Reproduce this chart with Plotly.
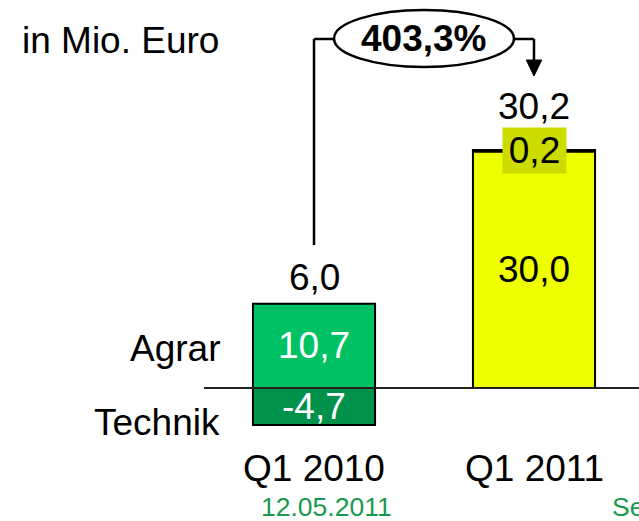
import plotly.graph_objects as go

# ---- data ----
categories = ["Q1 2010", "Q1 2011"]
agrar = [10.7, 30.0]
technik = [-4.7, 0.2]
totals = [6.0, 30.2]
growth_label = "403,3%"
unit_label = "in Mio. Euro"
segment_names = ["Agrar", "Technik"]
footer_date = "12.05.2011"
footer_right = "Seite"


def de(v):
    return f"{v:.1f}".replace(".", ",")


W, H = 639, 521
ZERO_PX = 388
PX_PER_UNIT = 7.88
X0_PX, X_STEP = 314, 220
FONT = "Liberation Sans, Arial, sans-serif"
FS = 37

xpos = list(range(len(categories)))
agrar_colors = ["#00C264", "#EEFF00"]
technik_colors = ["#00924A", "#C8D400"]
agrar_text_colors = ["white", "black"]


def py(px):
    return 1 - px / H


fig = go.Figure()
fig.add_bar(x=xpos, y=agrar, width=0.555, name=segment_names[0],
            marker=dict(color=agrar_colors, line=dict(color="black", width=2)))
fig.add_bar(x=xpos, y=technik, width=0.555, name=segment_names[1],
            marker=dict(color=technik_colors, line=dict(color="black", width=2)))

ann = []
for i, x in enumerate(xpos):
    ann.append(dict(x=x, y=agrar[i] / 2, text=de(agrar[i]), showarrow=False,
                    font=dict(size=FS, color=agrar_text_colors[i]), yanchor="middle"))
    if technik[i] < 0:
        ann.append(dict(x=x, y=technik[i] / 2, text=de(technik[i]), showarrow=False,
                        font=dict(size=FS, color="white"), yanchor="middle"))
        top = agrar[i]
        shift = 26
    else:
        top = agrar[i] + technik[i]
        ann.append(dict(x=x, y=top, text=de(technik[i]), showarrow=False,
                        font=dict(size=FS, color="black"), bgcolor="#CCDB00",
                        width=63, height=45, borderpad=0, yanchor="middle"))
        shift = 44
    ann.append(dict(x=x, y=top, yshift=shift, text=de(totals[i]), showarrow=False,
                    font=dict(size=FS, color="black"), yanchor="middle"))
    ann.append(dict(x=x, y=py(468), yref="paper", text=categories[i], showarrow=False,
                    font=dict(size=FS, color="black"), yanchor="middle"))

ann.append(dict(x=222 / W, xref="paper", y=py(348), yref="paper", text=segment_names[0],
                xanchor="right", yanchor="middle", showarrow=False,
                font=dict(size=FS, color="black")))
ann.append(dict(x=222 / W, xref="paper", y=py(422), yref="paper", text=segment_names[1],
                xanchor="right", yanchor="middle", showarrow=False,
                font=dict(size=FS, color="black")))
ann.append(dict(x=20 / W, xref="paper", y=py(40), yref="paper", text=unit_label,
                xanchor="left", yanchor="middle", showarrow=False,
                font=dict(size=FS, color="black")))
ann.append(dict(x=0.5, y=py(38), yref="paper", text=f"<b>{growth_label}</b>",
                yanchor="middle", showarrow=False, font=dict(size=FS, color="black")))
ann.append(dict(x=326 / W, xref="paper", y=py(507), yref="paper", text=footer_date,
                yanchor="middle", height=26, showarrow=False,
                font=dict(size=26.5, color="#1A9A50")))
ann.append(dict(x=610 / W, xref="paper", y=py(507), yref="paper", text=footer_right,
                xanchor="left", yanchor="middle", height=26, showarrow=False,
                font=dict(size=26.5, color="#1A9A50")))

LW = 2.5
shapes = [
    dict(type="line", xref="paper", yref="y", x0=204 / W, x1=1, y0=0, y1=0,
         line=dict(color="#222", width=2)),
    dict(type="line", xref="x", yref="paper", x0=0, x1=0, y0=py(245), y1=py(39),
         line=dict(color="black", width=LW)),
    dict(type="line", xref="x", yref="paper", x0=0, x1=0.09, y0=py(39), y1=py(39),
         line=dict(color="black", width=LW)),
    dict(type="circle", xref="x", yref="paper", x0=0.091, x1=0.909, y0=py(67), y1=py(10),
         line=dict(color="black", width=LW), fillcolor="white", layer="below"),
    dict(type="line", xref="x", yref="paper", x0=0.91, x1=1, y0=py(39), y1=py(39),
         line=dict(color="black", width=LW)),
    dict(type="line", xref="x", yref="paper", x0=1, x1=1, y0=py(39), y1=py(61),
         line=dict(color="black", width=LW)),
    dict(type="path", xref="x", yref="paper",
         path=f"M 0.965 {py(60)} L 1.035 {py(60)} L 1 {py(76)} Z",
         fillcolor="black", line=dict(color="black", width=1)),
]

fig.update_layout(
    width=W, height=H, margin=dict(l=0, r=0, t=0, b=0),
    barmode="relative", showlegend=False,
    plot_bgcolor="white", paper_bgcolor="white",
    font=dict(family=FONT, size=FS, color="black"),
    xaxis=dict(range=[-X0_PX / X_STEP, (W - X0_PX) / X_STEP], showticklabels=False,
               showgrid=False, zeroline=False, showline=False, fixedrange=True),
    yaxis=dict(range=[-(H - ZERO_PX) / PX_PER_UNIT, ZERO_PX / PX_PER_UNIT], visible=False,
               showgrid=False, zeroline=False, fixedrange=True),
    annotations=ann, shapes=shapes,
)

fig.write_html("out.html", config={"displayModeBar": False},
               post_script="document.body.style.margin='0';document.body.style.overflow='hidden';")
